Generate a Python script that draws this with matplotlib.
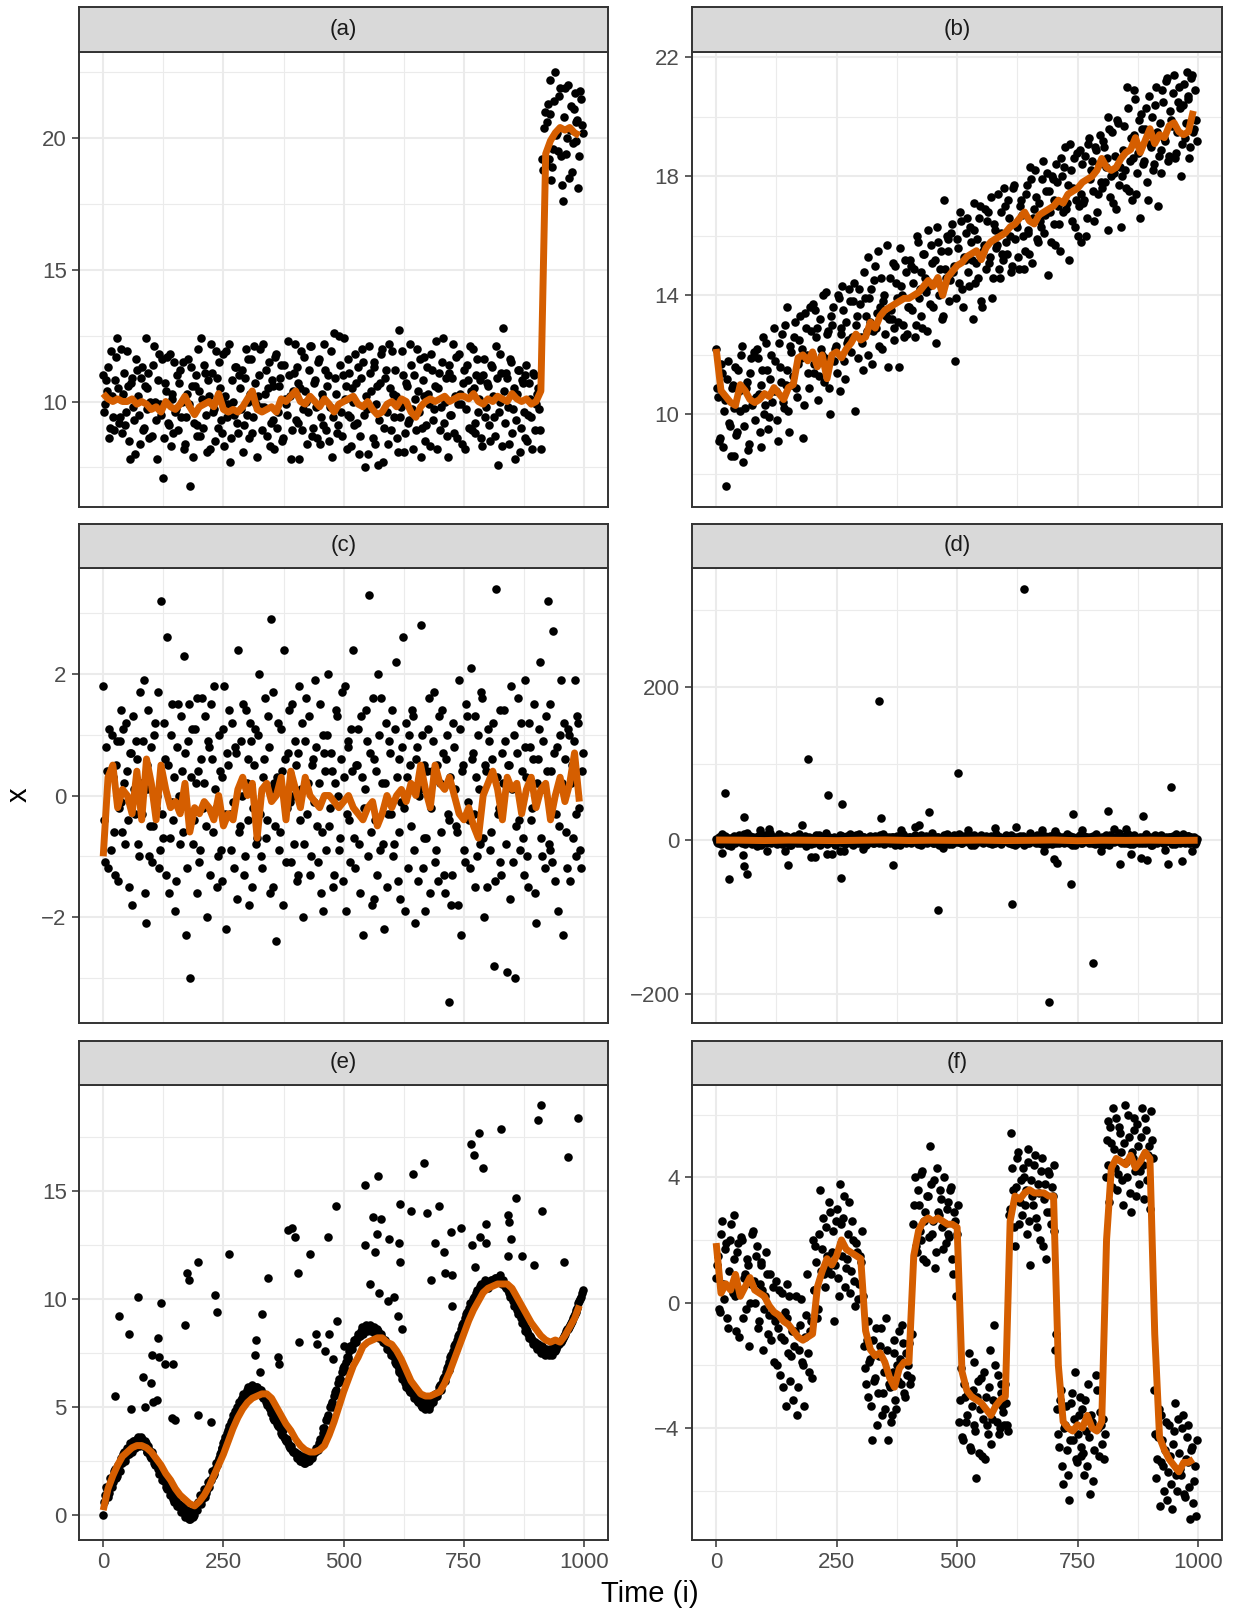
import numpy as np
import matplotlib.pyplot as plt
from matplotlib.ticker import MultipleLocator, FixedLocator

plt.rcParams['font.family'] = ['Liberation Sans', 'DejaVu Sans']

# === Data ===
# points: *_pts at t = 0, 4, 8, ...; *_pts2 at t = 2, 6, 10, ...
# smoother (*_line) every 10 time steps
a_pts = [
    11.0, 9.9, 10.4, 8.6, 11.9, 9.4, 10.8, 12.4, 9.2, 10.1,
    8.8, 11.1, 9.6, 10.6, 7.8, 10.9, 9.3, 11.6, 10.2, 8.4,
    11.3, 9.0, 12.4, 10.5, 8.6, 9.8, 11.4, 10.0, 7.8, 11.8,
    9.5, 7.1, 10.7, 11.7, 9.1, 8.3, 10.3, 11.5, 9.7, 8.9,
    11.2, 10.0, 8.2, 9.4, 11.6, 6.8, 10.6, 9.2, 11.0, 8.7,
    10.4, 12.4, 9.0, 11.1, 8.1, 10.2, 12.2, 9.6, 8.5, 10.9,
    11.5, 9.3, 10.1, 8.3, 11.9, 9.9, 7.7, 10.8, 9.5, 11.3,
    8.8, 10.5, 11.2, 9.1, 12.0, 10.0, 8.6, 11.6, 9.4, 10.7,
    7.9, 11.0, 9.8, 12.2, 10.3, 8.7, 11.5, 9.2, 10.6, 8.2,
    11.8, 9.6, 10.9, 8.5, 11.4, 9.9, 12.3, 10.2, 8.9, 11.1,
    9.3, 10.7, 7.8, 11.9, 9.7, 10.4, 8.4, 11.2, 12.1, 9.0,
    10.8, 8.6, 11.6, 9.4, 10.1, 12.2, 8.9, 11.0, 9.8, 7.9,
    12.6, 10.3, 9.1, 11.4, 8.7, 12.4, 10.6, 9.5, 11.1, 8.3,
    10.0, 11.8, 9.2, 8.0, 10.9, 11.5, 7.5, 9.7, 12.1, 10.4,
    8.6, 11.3, 9.9, 7.6, 10.7, 12.0, 9.0, 11.2, 8.4, 10.5,
    11.9, 9.4, 10.2, 8.1, 12.7, 9.8, 11.0, 8.8, 10.6, 9.3,
    11.4, 8.2, 10.1, 12.0, 9.6, 7.9, 10.8, 11.7, 9.1, 10.3,
    8.3, 11.2, 9.7, 12.3, 10.5, 8.9, 11.5, 9.2, 10.9, 7.9,
    11.1, 9.5, 12.2, 10.2, 8.6, 11.8, 9.9, 10.7, 8.2, 11.4,
    9.0, 10.4, 12.0, 8.8, 11.0, 9.6, 10.8, 8.3, 11.6, 9.8,
    10.6, 8.5, 11.3, 9.4, 12.1, 7.6, 10.0, 11.1, 12.8, 9.2,
    10.9, 8.4, 11.5, 9.7, 7.8, 10.3, 11.2, 9.0, 10.7, 8.6,
    11.4, 9.5, 10.1, 8.2, 11.0, 9.9, 10.5, 8.9, 19.2, 20.4,
    19.0, 21.3, 20.9, 18.4, 19.6, 22.5, 20.2, 21.6, 19.3, 17.6,
    21.9, 20.0, 18.5, 21.2, 19.8, 21.7, 20.6, 18.1, 21.8, 20.5,
]
a_pts2 = [
    9.6, 10.8, 11.3, 9.0, 10.2, 8.9, 11.7, 10.5, 9.4, 12.0,
    10.3, 9.1, 11.9, 8.5, 10.7, 9.8, 8.0, 11.2, 9.5, 10.9,
    8.9, 10.6, 9.7, 11.1, 10.0, 8.7, 12.1, 9.3, 10.8, 9.9,
    11.6, 8.6, 10.4, 9.2, 11.8, 10.1, 8.8, 9.6, 11.0, 10.7,
    9.4, 11.5, 8.4, 10.3, 9.9, 11.3, 7.9, 10.6, 9.1, 12.0,
    8.7, 10.1, 11.4, 9.5, 10.8, 8.2, 11.1, 9.7, 11.9, 9.0,
    10.5, 8.8, 11.8, 10.2, 9.4, 12.2, 8.6, 10.0, 11.3, 9.2,
    11.0, 9.7, 8.1, 10.9, 9.5, 11.6, 10.3, 8.8, 12.1, 9.9,
    10.2, 12.0, 8.9, 9.8, 11.2, 10.5, 8.3, 10.8, 9.3, 11.7,
    9.0, 10.6, 11.4, 8.6, 10.1, 9.5, 11.0, 7.8, 10.4, 12.2,
    11.3, 9.2, 10.5, 8.9, 11.7, 10.0, 9.6, 12.1, 8.7, 10.7,
    9.8, 11.5, 8.4, 10.3, 9.1, 11.2, 10.6, 8.5, 11.9, 9.4,
    10.9, 8.8, 12.5, 9.6, 11.0, 10.1, 8.2, 11.6, 9.4, 10.5,
    9.1, 10.7, 11.3, 8.7, 12.0, 9.5, 10.2, 8.0, 11.1, 9.8,
    11.5, 8.4, 10.6, 9.3, 11.8, 7.7, 10.9, 9.6, 12.2, 8.9,
    10.3, 11.2, 8.6, 10.0, 9.4, 11.9, 8.1, 10.7, 9.2, 12.2,
    9.7, 11.0, 8.9, 10.4, 11.6, 9.0, 10.2, 8.5, 11.3, 9.9,
    11.8, 9.3, 10.6, 8.2, 11.1, 9.8, 12.4, 10.0, 8.7, 11.4,
    9.5, 10.9, 8.8, 11.7, 9.9, 10.3, 8.4, 11.2, 9.7, 10.8,
    12.1, 8.9, 10.5, 9.2, 11.6, 10.1, 8.6, 11.0, 9.4, 10.7,
    9.1, 11.4, 10.2, 8.7, 10.9, 9.6, 11.8, 8.3, 10.4, 11.1,
    9.8, 11.6, 8.8, 10.5, 9.3, 11.2, 8.1, 10.8, 9.6, 11.0,
    8.5, 10.7, 9.4, 11.1, 8.9, 10.3, 9.7, 8.2, 18.8, 21.0,
    20.6, 19.2, 22.2, 18.9, 21.4, 20.1, 19.5, 21.9, 18.2, 20.8,
    19.4, 22.0, 20.3, 18.7, 21.1, 19.9, 20.7, 19.3, 21.5, 20.2,
]
a_line = [
    10.3, 10.1, 10.0, 10.1, 10.0, 10.0, 10.1, 9.9, 10.0, 9.9,
    9.7, 9.8, 9.6, 10.0, 9.8, 9.7, 9.9, 10.2, 9.8, 9.5,
    9.8, 9.9, 10.0, 9.8, 10.3, 9.7, 9.6, 9.7, 9.6, 9.8,
    10.1, 10.4, 9.7, 9.6, 9.7, 9.8, 9.6, 10.1, 10.0, 10.2,
    10.4, 10.0, 9.9, 10.2, 10.0, 9.8, 10.1, 9.9, 9.6, 9.9,
    10.0, 10.1, 10.2, 9.9, 9.8, 10.0, 9.7, 9.5, 9.6, 9.9,
    10.0, 9.8, 10.1, 10.0, 9.6, 9.4, 9.8, 10.0, 10.1, 10.0,
    10.1, 10.2, 10.0, 10.1, 10.2, 10.2, 10.1, 10.3, 10.0, 9.9,
    10.1, 10.0, 10.2, 10.1, 10.0, 10.3, 10.1, 10.0, 10.1, 9.9,
    10.0, 10.4, 19.4, 19.9, 20.2, 20.4, 20.3, 20.4, 20.2, 20.1,
]

b_pts = [
    12.2, 10.6, 9.2, 11.4, 10.1, 7.6, 11.8, 9.6, 10.9, 8.6,
    11.6, 9.4, 10.8, 12.0, 8.4, 10.2, 11.1, 9.0, 11.9, 10.5,
    9.8, 12.2, 10.7, 8.9, 11.5, 10.0, 12.4, 9.5, 11.2, 10.4,
    12.9, 10.8, 9.1, 11.6, 12.7, 10.2, 11.0, 13.6, 9.4, 12.1,
    11.3, 13.1, 10.6, 12.5, 11.9, 9.2, 13.4, 12.0, 10.9, 12.8,
    13.7, 11.4, 12.6, 10.5, 13.2, 12.0, 11.1, 14.1, 12.8, 10.0,
    13.0, 11.8, 12.3, 14.0, 10.8, 12.9, 13.5, 11.2, 12.4, 14.2,
    12.1, 13.8, 10.1, 13.3, 14.2, 12.6, 11.5, 13.9, 12.8, 15.3,
    13.1, 11.7, 14.5, 12.9, 15.5, 13.6, 12.2, 14.0, 13.3, 11.6,
    14.6, 13.2, 12.5, 15.0, 13.9, 11.6, 14.3, 13.0, 15.2, 12.7,
    13.6, 15.0, 14.4, 12.6, 16.0, 13.9, 14.8, 12.9, 15.4, 14.1,
    16.2, 13.7, 15.1, 14.4, 12.4, 15.8, 14.9, 13.2, 17.2, 14.6,
    15.5, 13.8, 16.1, 14.8, 11.8, 15.9, 14.4, 16.5, 13.6, 15.2,
    16.6, 14.3, 15.8, 13.2, 16.2, 15.1, 14.6, 17.0, 13.6, 15.7,
    14.9, 16.8, 15.3, 13.9, 16.4, 15.6, 17.4, 14.6, 16.1, 15.2,
    17.0, 15.4, 16.6, 14.8, 17.6, 15.9, 16.3, 14.9, 17.2, 16.0,
    15.5, 17.7, 16.2, 18.3, 15.1, 16.9, 17.3, 15.8, 16.5, 17.9,
    16.1, 17.5, 14.7, 16.8, 18.0, 17.2, 15.7, 17.8, 16.4, 18.6,
    16.8, 19.0, 17.1, 15.2, 18.2, 17.6, 16.3, 18.8, 17.0, 15.8,
    18.4, 17.2, 16.0, 19.1, 17.9, 18.5, 16.5, 18.9, 17.4, 19.4,
    17.6, 19.0, 18.3, 16.2, 19.6, 18.0, 17.1, 18.7, 19.9, 17.7,
    16.3, 18.9, 18.2, 21.0, 17.5, 19.3, 18.6, 20.9, 17.4, 18.8,
    16.6, 19.6, 18.5, 20.3, 17.2, 19.1, 20.0, 18.4, 21.0, 17.0,
    19.8, 18.1, 20.5, 19.2, 21.3, 18.7, 19.9, 20.8, 18.6, 19.5,
    21.0, 18.0, 20.4, 19.3, 21.5, 20.6, 19.0, 21.4, 19.6, 19.9,
]
b_pts2 = [
    10.9, 9.1, 11.7, 8.9, 10.5, 11.2, 9.7, 8.6, 11.0, 10.2,
    9.3, 11.5, 10.1, 12.3, 9.6, 10.9, 8.8, 11.4, 10.3, 12.1,
    10.6, 11.9, 9.4, 11.0, 12.6, 10.3, 11.5, 9.9, 12.0, 10.8,
    11.8, 9.8, 12.4, 11.1, 10.4, 13.0, 11.5, 10.1, 12.3, 11.0,
    12.6, 10.9, 11.7, 13.3, 12.2, 10.3, 12.9, 11.4, 13.6, 12.0,
    11.7, 13.5, 12.9, 11.3, 12.2, 14.0, 11.9, 12.7, 10.9, 13.3,
    13.6, 12.2, 11.4, 13.9, 12.7, 14.3, 11.8, 13.1, 12.5, 13.8,
    12.6, 14.4, 13.0, 11.9, 13.7, 12.4, 14.8, 13.3, 12.0, 13.9,
    14.2, 12.8, 15.0, 13.4, 12.3, 14.6, 13.8, 12.7, 15.7, 13.2,
    13.5, 15.1, 12.9, 14.4, 13.1, 15.6, 14.0, 12.6, 14.8, 13.6,
    15.2, 13.5, 14.9, 13.0, 15.8, 14.2, 13.3, 15.4, 14.6, 12.8,
    14.3, 15.7, 13.6, 15.2, 16.3, 14.0, 15.5, 13.3, 14.9, 16.0,
    15.9, 14.5, 16.4, 15.0, 13.9, 15.6, 16.8, 14.2, 15.3, 16.1,
    14.8, 16.3, 15.2, 17.1, 14.4, 15.9, 16.6, 13.8, 15.5, 16.9,
    16.5, 15.1, 17.3, 14.6, 16.2, 15.7, 14.9, 16.8, 15.4, 17.6,
    15.8, 17.2, 16.0, 15.0, 17.7, 16.4, 15.3, 17.0, 16.7, 14.9,
    17.4, 16.1, 15.4, 17.9, 16.6, 18.2, 15.9, 17.1, 16.3, 18.5,
    16.7, 18.1, 17.5, 15.8, 17.9, 16.4, 18.4, 17.0, 15.5, 18.0,
    18.3, 16.9, 17.7, 19.1, 16.5, 18.6, 17.2, 16.0, 18.9, 17.4,
    17.1, 18.7, 16.6, 19.3, 18.2, 17.5, 19.0, 16.8, 18.4, 17.8,
    19.2, 17.8, 18.6, 20.0, 17.3, 19.5, 18.1, 16.9, 19.8, 18.3,
    18.0, 19.7, 17.6, 20.3, 18.5, 17.2, 19.4, 20.6, 18.1, 19.9,
    20.1, 18.4, 19.6, 17.8, 20.7, 19.0, 18.2, 20.4, 19.5, 18.7,
    18.9, 20.9, 19.3, 21.2, 18.5, 20.2, 19.7, 21.4, 18.8, 20.5,
    20.3, 19.1, 21.1, 19.8, 20.7, 18.6, 21.3, 19.5, 20.9, 19.2,
]
b_line = [
    12.2, 10.8, 10.6, 10.4, 10.3, 11.0, 10.8, 10.5, 10.4, 10.5,
    10.7, 10.6, 10.9, 10.7, 10.5, 10.9, 11.0, 11.9, 12.0, 11.8,
    12.1, 11.6, 12.0, 11.2, 12.0, 12.1, 11.9, 12.2, 12.4, 12.7,
    12.5, 12.6, 13.1, 12.9, 13.3, 13.5, 13.6, 13.7, 13.8, 13.9,
    13.9, 14.0, 14.1, 14.3, 14.5, 14.3, 14.6, 14.0, 14.6, 14.8,
    15.0, 15.1, 15.3, 15.4, 15.5, 15.2, 15.6, 15.8, 15.9, 16.0,
    16.1, 16.3, 16.4, 16.6, 16.8, 16.5, 16.4, 16.7, 16.8, 16.9,
    17.0, 17.2, 17.1, 17.4, 17.5, 17.6, 17.8, 17.9, 18.0, 18.2,
    18.6, 18.3, 18.2, 18.3, 18.6, 18.8, 18.9, 19.3, 18.8, 19.2,
    19.6, 19.1, 19.4, 19.3, 19.7, 19.8, 19.5, 19.4, 19.5, 20.2,
]

c_pts = [
    1.8, -1.1, 0.4, 1.1, -0.9, 0.3, -1.3, 0.9, -0.2, 1.4,
    -0.6, 0.2, 1.2, -0.4, 0.7, -1.8, 0.1, 0.9, -0.8, 1.7,
    -0.3, 1.9, -2.1, 0.5, -1.0, 0.8, -0.5, 1.2, 0.0, -1.2,
    3.2, -0.7, 0.6, 2.6, -1.6, 1.0, -0.1, 0.3, -1.4, 1.5,
    -0.8, 0.4, 2.3, -2.3, 0.9, -3.0, 1.1, -0.4, 0.2, 1.6,
    -1.1, 0.6, -0.2, 1.3, -2.0, 0.8, 1.5, -0.6, 0.1, -1.5,
    1.0, -0.9, 0.3, 1.8, -2.2, 0.5, -0.3, 1.2, -1.2, 0.7,
    2.4, -0.5, 0.0, -1.3, 1.4, 0.6, -1.8, 0.9, -0.2, 1.1,
    -0.7, 2.0, -1.0, 0.3, 1.6, -0.4, 0.8, 2.9, -1.5, 0.2,
    -2.4, 1.2, -0.6, 0.4, 2.4, -1.1, 0.7, -0.1, 1.5, -0.8,
    0.5, -1.3, 1.8, 0.1, -2.0, 0.9, -0.3, 1.3, -1.0, 0.6,
    1.9, -0.5, 0.2, -1.6, 1.0, 0.7, -0.9, 2.0, -0.2, 0.4,
    -1.3, 1.4, 0.0, -0.7, 1.7, 0.3, -1.9, 0.8, -0.4, 1.1,
    2.4, -1.2, 0.5, -0.8, 1.3, -2.3, 0.1, 0.9, 3.3, -0.6,
    1.6, -1.7, 0.4, 2.0, -0.9, 0.2, -2.2, 1.2, -0.3, 0.7,
    1.4, -0.8, 2.2, -1.4, 0.6, -0.1, 2.6, -1.9, 0.3, 1.0,
    -0.5, 1.3, -2.1, 0.8, 0.0, 2.8, -1.2, 0.5, -0.7, 1.1,
    -1.6, 0.4, 1.7, -0.9, -1.4, 0.2, 1.4, -1.3, 0.6, -0.3,
    -3.4, -1.8, 1.2, 0.1, -0.6, 1.9, -2.3, 0.5, -1.1, 1.3,
    -0.4, 2.1, 0.7, -1.5, 0.3, 1.0, -0.8, 1.6, -2.0, 0.4,
    1.1, -0.9, 0.6, -2.8, 3.4, -0.3, 1.4, -1.3, 0.2, 0.9,
    -2.9, 0.5, 1.8, -1.1, -3.0, 0.7, -0.4, 1.2, -0.7, 1.9,
    0.3, -1.5, 0.8, -0.2, 1.5, -2.1, 0.6, 2.2, -1.0, 0.1,
    1.3, 3.2, -0.9, 0.4, 2.7, -1.4, 0.8, -0.5, 1.9, -2.3,
    0.6, -1.2, 1.0, 0.2, -0.7, 1.9, -0.3, 1.2, -0.9, 0.4,
]
c_pts2 = [
    -0.4, 0.8, -1.2, 0.3, 1.0, -0.6, 0.5, -1.4, 0.9, -0.1,
    1.1, -0.8, 0.4, -1.5, 0.7, 1.3, -0.3, 0.6, -1.0, 0.2,
    0.9, -1.6, 0.1, 1.4, -0.5, -1.1, 1.0, -0.2, 1.7, -0.9,
    -0.3, 1.2, -1.3, 0.5, -0.7, 1.5, -0.4, -1.9, 0.8, 0.0,
    1.3, -0.6, 0.7, -1.2, 1.5, 0.3, -0.8, 1.1, -1.6, 0.4,
    -0.9, 1.6, 0.2, -0.5, 0.9, -1.3, 0.6, 1.8, -0.2, -1.0,
    0.4, -1.4, 1.1, -0.3, 0.7, 1.4, -0.9, -0.1, 0.8, -1.7,
    -0.6, 0.9, 1.5, -1.0, 0.2, -0.4, 1.2, -1.5, 0.5, -0.8,
    1.0, -0.3, -1.2, 0.6, -0.7, 1.3, -1.6, 0.1, 1.7, -0.5,
    0.3, -0.9, 1.1, -1.8, 0.6, -0.2, 1.4, -1.1, 0.0, 0.9,
    -1.4, 0.7, -0.4, 1.2, -0.8, 1.6, 0.2, -1.3, 0.5, -0.1,
    0.8, -1.1, 1.5, -0.6, -1.9, 0.4, 1.0, -0.5, 0.7, -1.5,
    0.2, 1.3, -0.9, 0.6, -1.4, 1.8, -0.3, 0.9, -1.1, 0.4,
    -0.7, 0.5, 1.1, -1.6, 0.3, -0.2, 1.4, -1.0, 0.7, -1.8,
    0.6, -0.4, -1.3, 1.0, 1.6, -0.8, 0.2, -1.5, 0.9, -0.3,
    -1.0, 1.1, 0.3, -0.6, -1.7, 0.8, -0.2, 1.2, -1.2, 0.5,
    1.4, -0.9, 0.6, -1.4, 0.1, 1.0, -0.7, -1.9, 0.4, 1.6,
    -0.2, 0.9, -1.1, 0.5, 1.3, -0.6, 0.7, -1.6, 1.0, -0.4,
    0.3, -1.3, 0.8, -0.5, -1.8, 1.1, 0.4, -0.9, 1.5, -0.1,
    -1.2, 0.6, -0.3, 1.3, -1.0, 0.1, 1.7, -0.7, 0.5, -1.5,
    0.9, -0.6, 1.2, -1.4, 0.3, -0.2, -1.1, 0.7, 1.4, -0.8,
    0.5, -1.7, 0.1, 1.0, -0.5, 1.6, -0.9, 0.4, -1.3, 0.8,
    -1.0, 1.2, -0.4, 0.6, -1.6, 0.2, 1.1, -0.7, 0.9, -1.2,
    0.4, -0.8, 1.5, -1.1, 0.7, -0.3, -1.9, 1.0, 0.2, 1.2,
    -0.6, 1.1, -1.4, 0.5, 0.9, -1.0, 1.3, -0.2, -1.2, 0.7,
]
c_line = [
    -1.0, 0.3, 0.5, -0.2, 0.1, 0.0, -0.3, 0.4, -0.4, 0.6,
    0.2, -0.4, 0.5, 0.1, -0.2, -0.1, -0.3, 0.2, -0.6, -0.2,
    -0.3, -0.1, -0.2, -0.4, 0.0, -0.5, -0.3, -0.4, 0.1, 0.3,
    0.0, 0.2, -0.7, 0.1, 0.2, -0.1, 0.0, 0.3, -0.4, 0.4,
    0.1, -0.2, 0.3, 0.0, -0.1, -0.2, 0.0, 0.0, -0.1, -0.2,
    -0.1, 0.0, -0.2, -0.3, -0.4, -0.2, -0.1, -0.5, -0.3, 0.0,
    -0.2, 0.0, 0.1, -0.1, 0.2, 0.0, 0.5, 0.1, -0.2, 0.5,
    0.2, 0.1, 0.3, 0.0, -0.3, -0.4, -0.2, -0.5, -0.7, 0.0,
    0.2, 0.4, 0.1, -0.4, 0.3, 0.1, 0.2, -0.3, 0.1, 0.3,
    -0.2, 0.1, 0.2, -0.4, 0.0, 0.3, -0.1, 0.2, 0.7, -0.1,
]

d_pts = [
    2, -3, 5, 8, -1, 4, -6, 3, 0, 6,
    -4, 1, 7, -2, 3, -5, 9, 0, -3, 4,
    1, -7, 3, 6, -2, 5, -4, 2, 10, -1,
    4, -3, 0, 7, -5, 2, 6, -2, 3, -6,
    5, 0, -4, 8, 2, -3, 6, -1, 4, -5,
    3, -2, 7, 1, -6, 4, 0, 9, -3, 2,
    -1, 5, -4, 3, 7, -2, 1, -5, 6, 0,
    2, -6, 4, 0, 8, -3, 5, -1, 3, -4,
    6, 1, -3, 5, -2, 7, 0, -5, 4, 2,
    -3, 4, 1, -6, 6, 2, -2, 8, -1, 3,
    5, -4, 2, 7, -1, 3, -6, 4, 0, 6,
    -2, 3, 9, -4, 1, 5, -3, 2, 7, -1,
    4, -5, 0, 6, -2, 3, 8, -4, 1, 5,
    -1, 2, -6, 4, 7, -3, 0, 5, -2, 3,
    6, -2, 3, -5, 1, 8, -1, 4, -4, 2,
    0, 5, -3, 7, 2, -6, 4, 1, -2, 6,
    3, -4, 1, 9, -1, 5, -3, 2, 6, -5,
    1, 4, -2, 6, -5, 3, 0, 7, -3, 2,
    5, -1, 8, -4, 2, 4, -6, 1, 6, -2,
    -3, 6, 2, -1, 5, -4, 3, 8, 0, -5,
    4, -2, 7, 1, -6, 3, 5, -1, 2, 9,
    -4, 1, 6, -3, 4, 0, -5, 7, 2, -1,
    5, -3, 2, 8, -2, 4, -6, 1, 6, 0,
    -1, 7, -4, 3, 0, 5, -2, 6, -5, 2,
    4, -1, 8, -3, 2, 6, -4, 1, 5, -2,
]
d_pts2 = [
    -2, 4, -5, 1, 6, -3, 2, -7, 3, 0,
    5, -1, 3, -4, 8, 0, -2, 6, -5, 1,
    -3, 6, 0, -6, 2, 7, -1, 4, -4, 3,
    1, -5, 8, -2, 4, 0, -3, 5, -6, 2,
    6, -2, 3, -4, 0, 5, -7, 1, 3, -1,
    -4, 2, 0, 7, -3, 5, 1, -5, 4, -2,
    3, -6, 2, 0, -2, 6, -4, 3, -1, 8,
    -5, 1, 7, -3, 2, -1, 4, -6, 0, 5,
    2, -3, 6, -1, -4, 3, 8, 0, -2, 4,
    0, 5, -4, 3, 1, -6, 2, 6, -3, -1,
    4, -2, 0, 5, -5, 2, 7, -3, 1, -4,
    -1, 6, -3, 2, 4, -6, 0, 3, -2, 8,
    3, 0, -5, 7, 1, -2, 4, -4, 6, 0,
    -2, 5, 3, -6, 0, 4, -1, 7, -3, 2,
    1, -4, 6, 0, -3, 2, 5, -5, 3, -1,
    7, -2, 1, -5, 4, 0, -3, 6, 2, -6,
    -1, 3, -4, 5, 0, -2, 7, -3, 1, 4,
    6, -5, 2, -1, 3, 8, -4, 0, 5, -2,
    -3, 4, 0, 6, -6, 1, 3, -2, 7, -4,
    2, -1, 5, -3, 0, 6, -5, 4, -2, 1,
    -6, 3, 1, -4, 7, 0, -2, 5, -1, 3,
    4, -3, 0, 8, -5, 2, 6, -1, 3, -4,
    -2, 5, -4, 1, 3, -6, 0, 7, -3, 2,
    6, 0, -3, 4, -1, 5, -5, 2, 8, -2,
    -4, 3, 1, -2, 6, -3, 4, 0, -5, 2,
]
d_out_t = [19, 57, 91, 109, 179, 191, 233, 262, 338, 341, 383, 413, 420, 441,
           502, 522, 578, 622, 639, 677, 704, 741, 759, 812, 825, 850, 885, 943,
           12, 26, 55, 58, 63, 106, 143, 149, 197, 205, 229, 240, 256, 260, 266,
           305, 366, 460, 471, 613, 680, 690, 702, 707, 737, 782, 799, 837, 860,
           881, 893, 931, 938, 967, 987]
d_out_v = [62, 31, 13, 15, 20, 106, 59, 47, 181, 29, 14, 18, 20, 37,
           88, 14, 16, 17, 328, 14, 12, 34, 14, 38, 15, 15, 32, 70,
           -16, -50, -19, -34, -44, -14, -14, -32, -21, -21, -18, -18, -14, -49, -14,
           -11, -32, -91, -10, -83, -14, -211, -24, -29, -57, -160, -14, -31, -18,
           -23, -26, -13, -31, -27, -14]
# smoother in (d) is flat, read every 50 steps (last one at the final time)
d_line = [0.5, 0.3, -0.2, 0.4, 0.1, -0.3, 0.2, 0.6, -0.1, 0.3,
          0.0, 0.4, -0.2, 0.1, 0.5, -0.4, 0.2, 0.0, 0.3, -0.1, 0.2]

e_pts = [
    0.0, 0.9, 1.2, 1.0, 1.6, 1.5, 2.1, 1.8, 2.3, 2.6,
    2.4, 2.9, 2.7, 3.0, 3.3, 2.9, 3.4, 3.2, 3.6, 3.3,
    3.5, 3.2, 3.3, 2.9, 3.0, 2.6, 2.6, 2.3, 2.3, 1.9,
    1.9, 1.6, 1.5, 1.2, 1.2, 0.9, 0.9, 0.6, 0.7, 0.4,
    0.4, 0.2, 0.2, 0.0, 0.1, -0.2, 0.1, 0.0, 0.3, 0.5,
    0.6, 0.5, 0.9, 0.8, 1.2, 1.3, 1.6, 1.8, 2.1, 2.3,
    2.6, 2.9, 3.1, 3.4, 3.6, 3.9, 4.1, 4.4, 4.6, 4.8,
    5.0, 5.2, 5.4, 5.3, 5.6, 5.5, 5.8, 5.7, 5.9, 5.8,
    5.9, 5.6, 5.8, 5.4, 5.5, 5.1, 5.0, 4.7, 4.8, 4.4,
    4.4, 4.1, 4.0, 3.7, 3.6, 3.4, 3.3, 3.1, 3.0, 2.9,
    2.8, 2.7, 2.6, 2.5, 2.6, 2.4, 2.6, 2.5, 2.7, 2.8,
    2.9, 3.1, 3.3, 3.5, 3.8, 4.0, 4.4, 4.6, 5.0, 5.2,
    5.5, 5.8, 6.1, 6.3, 6.6, 6.9, 7.1, 7.3, 7.6, 7.7,
    7.9, 8.1, 8.2, 8.3, 8.5, 8.4, 8.6, 8.5, 8.7, 8.5,
    8.5, 8.6, 8.4, 8.5, 8.3, 8.2, 8.0, 7.9, 7.7, 7.6,
    7.4, 7.3, 7.0, 6.9, 6.6, 6.5, 6.3, 6.1, 6.0, 5.8,
    5.8, 5.6, 5.5, 5.3, 5.3, 5.1, 5.2, 5.0, 5.1, 5.0,
    5.1, 5.3, 5.4, 5.6, 5.7, 6.0, 6.1, 6.4, 6.6, 6.9,
    7.1, 7.4, 7.6, 7.9, 8.1, 8.4, 8.6, 8.9, 9.1, 9.4,
    9.6, 9.8, 10.0, 10.1, 10.3, 10.4, 10.6, 10.5, 10.7, 10.6,
    10.5, 10.7, 10.9, 10.8, 11.0, 10.9, 11.1, 10.8, 10.9, 10.6,
    10.5, 10.3, 10.2, 9.9, 9.8, 9.5, 9.4, 9.1, 9.0, 8.7,
    8.6, 8.4, 8.3, 8.1, 8.0, 7.8, 7.9, 7.7, 7.8, 7.6,
    7.7, 7.5, 7.6, 7.5, 7.7, 7.6, 7.8, 7.9, 8.0, 8.2,
    8.4, 8.6, 8.7, 8.9, 9.1, 9.3, 9.5, 9.8, 10.0, 10.3,
]
e_pts2 = [
    0.6, 1.3, 0.8, 1.7, 1.3, 2.0, 1.7, 2.3, 2.0, 2.4,
    2.8, 2.5, 3.1, 2.8, 3.0, 3.4, 3.1, 3.5, 3.2, 3.6,
    3.2, 3.4, 2.9, 3.2, 2.7, 2.9, 2.4, 2.5, 2.1, 2.2,
    1.6, 1.8, 1.3, 1.4, 0.9, 1.1, 0.7, 0.8, 0.4, 0.5,
    0.1, 0.4, -0.1, 0.2, -0.2, 0.1, -0.1, 0.3, 0.2, 0.6,
    0.9, 0.7, 1.2, 1.0, 1.5, 1.6, 2.0, 1.9, 2.4, 2.5,
    2.8, 3.1, 3.3, 3.6, 3.8, 4.1, 4.3, 4.6, 4.8, 5.0,
    5.2, 5.3, 5.6, 5.5, 5.8, 5.9, 5.7, 6.0, 5.8, 5.9,
    5.7, 5.8, 5.5, 5.6, 5.2, 5.3, 4.9, 4.9, 4.5, 4.6,
    4.2, 4.2, 3.8, 3.9, 3.5, 3.5, 3.2, 3.2, 2.9, 2.9,
    2.6, 2.8, 2.5, 2.7, 2.4, 2.7, 2.5, 2.8, 2.6, 2.9,
    3.1, 3.0, 3.5, 3.3, 4.0, 3.9, 4.5, 4.4, 5.1, 5.0,
    5.7, 5.6, 6.3, 6.2, 6.8, 6.7, 7.3, 7.2, 7.8, 7.7,
    8.1, 8.0, 8.4, 8.3, 8.7, 8.5, 8.8, 8.6, 8.8, 8.7,
    8.7, 8.4, 8.6, 8.2, 8.4, 8.0, 8.1, 7.7, 7.8, 7.4,
    7.5, 7.1, 7.2, 6.7, 6.8, 6.3, 6.4, 5.9, 6.1, 5.7,
    5.7, 5.4, 5.5, 5.2, 5.4, 5.0, 5.2, 4.9, 5.2, 4.9,
    5.2, 5.2, 5.6, 5.5, 5.9, 5.8, 6.3, 6.2, 6.8, 6.7,
    7.3, 7.2, 7.8, 7.7, 8.3, 8.2, 8.8, 8.7, 9.3, 9.2,
    9.8, 9.7, 10.1, 10.0, 10.4, 10.3, 10.7, 10.6, 10.9, 10.8,
    10.7, 10.9, 10.8, 11.0, 10.8, 11.0, 10.9, 10.7, 10.7, 10.5,
    10.4, 10.1, 10.1, 9.7, 9.7, 9.3, 9.3, 8.9, 8.9, 8.5,
    8.5, 8.2, 8.2, 7.9, 8.0, 7.7, 7.7, 7.5, 7.6, 7.4,
    7.6, 7.4, 7.7, 7.4, 7.8, 7.7, 7.9, 8.0, 8.1, 8.3,
    8.5, 8.6, 8.8, 9.0, 9.2, 9.4, 9.6, 9.9, 10.1, 10.4,
]
e_out_t = [25, 32, 54, 57, 73, 82, 87, 99, 101, 103,
           111, 113, 115, 120, 129, 144, 150, 146, 170, 174,
           179, 197, 198, 224, 232, 237, 262, 315, 318, 326,
           330, 342, 364, 365, 385, 392, 398, 406, 408, 429,
           442, 445, 461, 468, 470, 477, 486, 485, 500, 545,
           545, 554, 561, 565, 569, 572, 574, 577, 592, 594,
           604, 613, 615, 617, 618, 622, 639, 645, 668, 674,
           682, 689, 699, 709, 711, 723, 725, 726, 744, 764,
           766, 770, 772, 782, 783, 790, 795, 795, 827, 841,
           843, 841, 848, 859, 871, 895, 903, 911, 913, 959,
           967, 987]
e_out_v = [5.5, 9.2, 8.4, 4.9, 10.1, 6.4, 5.0, 6.1, 7.4, 5.2,
           5.3, 8.2, 7.3, 9.8, 7.0, 4.5, 4.4, 7.0, 8.8, 11.2,
           10.9, 4.6, 11.7, 4.3, 10.2, 9.4, 12.1, 7.4, 8.1, 6.6,
           9.3, 11.0, 7.3, 7.0, 13.2, 13.3, 12.9, 11.2, 8.0, 12.1,
           8.4, 7.9, 7.6, 12.9, 8.4, 7.2, 9.0, 14.3, 7.8, 15.3,
           12.5, 10.7, 13.8, 12.2, 13.0, 15.7, 10.3, 13.7, 9.9, 12.8,
           10.1, 9.2, 12.6, 14.4, 11.7, 8.6, 14.1, 15.8, 16.3, 14.0,
           10.9, 12.6, 14.3, 12.2, 11.2, 13.1, 11.1, 9.7, 13.3, 17.2,
           12.5, 16.7, 11.5, 17.7, 12.9, 16.1, 13.5, 12.6, 17.9, 13.9,
           13.6, 12.0, 12.8, 14.7, 12.0, 11.6, 18.3, 19.0, 14.1, 11.7,
           16.6, 18.4]
e_line = [
    0.2, 1.2, 1.8, 2.3, 2.7, 2.9, 3.1, 3.2, 3.2, 3.1,
    2.9, 2.6, 2.3, 1.9, 1.6, 1.2, 0.9, 0.7, 0.5, 0.4,
    0.6, 0.9, 1.3, 1.8, 2.3, 2.8, 3.4, 4.0, 4.5, 4.9,
    5.2, 5.4, 5.5, 5.6, 5.6, 5.4, 5.0, 4.6, 4.2, 3.9,
    3.5, 3.2, 3.0, 2.9, 2.9, 3.0, 3.2, 3.7, 4.3, 5.0,
    5.7, 6.3, 6.9, 7.3, 7.8, 8.0, 8.1, 8.2, 8.2, 8.0,
    7.9, 7.6, 7.2, 6.7, 6.2, 5.9, 5.6, 5.5, 5.5, 5.6,
    5.7, 6.1, 6.6, 7.2, 7.8, 8.4, 9.0, 9.5, 9.9, 10.3,
    10.5, 10.6, 10.7, 10.7, 10.7, 10.5, 10.1, 9.7, 9.3, 8.9,
    8.6, 8.3, 8.1, 8.0, 8.1, 8.0, 8.3, 8.7, 9.1, 9.7,
]

f_pts = [
    0.8, 1.5, -0.3, 2.6, 0.1, 1.9, -0.8, 2.0, 0.5, 2.8,
    0.2, 1.6, -1.1, 2.1, -0.5, 0.9, 1.4, -1.4, 0.6, 2.3,
    0.0, 1.8, -0.6, 1.2, 0.4, -0.2, 1.6, -1.0, 0.9, -0.4,
    -1.9, 0.7, -0.8, -2.3, 0.3, -1.2, -3.3, -0.5, 0.2, -1.7,
    -3.1, -0.9, -3.6, -1.5, 0.1, -2.0, -1.1, 0.9, -2.2, -0.6,
    2.0, 0.4, 1.3, -0.2, 3.6, 1.7, 0.9, 2.4, 1.1, 2.9,
    1.6, -0.6, 2.6, 0.8, 3.8, 1.9, 2.7, 0.5, 1.4, 3.2,
    1.0, 2.0, -0.1, 1.6, 0.6, 1.3, 0.2, -2.1, -1.2, -3.0,
    -1.8, -4.4, -2.5, -0.8, -2.9, -1.4, -3.6, -2.2, -0.5, -4.4,
    -2.7, -3.6, -1.6, -3.1, -2.0, -0.9, -2.6, -1.3, -3.0, -2.3,
    -1.3, -2.4, 2.5, 4.0, 1.6, 3.1, 2.0, 4.2, 2.6, 1.3,
    3.4, 5.0, 2.2, 3.9, 1.6, 2.9, 3.6, 2.4, 4.0, 1.9,
    3.2, 2.1, 3.7, 0.9, 2.6, 2.2, -3.8, -2.1, -4.4, -3.0,
    -3.6, -1.6, -4.7, -2.8, -3.9, -5.6, -2.5, -3.4, -4.9, -2.2,
    -3.0, -4.2, -1.5, -3.7, -0.7, -3.2, -2.3, -4.0, -2.9, -3.5,
    -2.6, -3.9, 2.8, 5.4, 3.6, 1.8, 4.6, 2.5, 3.9, 4.3,
    3.1, 2.2, 4.9, 1.2, 3.4, 4.4, 2.7, 3.8, 2.0, 4.6,
    3.3, 1.4, 4.2, 2.9, 3.7, 2.3, -1.5, -3.4, -4.6, -2.8,
    -5.8, -3.9, -4.7, -6.3, -3.2, -4.4, -2.2, -5.1, -3.6, -4.9,
    -3.4, -5.5, -4.1, -2.6, -6.1, -3.8, -4.7, -2.3, -4.0, -3.5,
    -4.5, -5.0, 4.0, 5.8, 3.2, 5.1, 6.2, 4.3, 3.6, 5.6,
    4.8, 3.1, 6.3, 4.0, 5.3, 2.9, 4.6, 5.9, 3.4, 5.0,
    4.2, 6.2, 3.3, 5.5, 4.7, 3.0, 5.2, -2.8, -5.6, -4.3,
    -6.5, -3.6, -5.2, -4.7, -6.3, -3.9, -5.8, -4.5, -3.2, -6.0,
    -4.8, -5.5, -3.6, -6.2, -4.3, -5.1, -6.9, -4.6, -5.7, -6.8,
]
f_pts2 = [
    1.2, -0.2, 2.2, 0.6, 1.7, -0.5, 1.0, 2.5, 0.3, 1.4,
    -0.9, 1.9, 0.4, 2.0, 0.8, -0.2, 1.2, 0.0, 2.2, 0.7,
    1.5, -0.8, 0.6, 1.3, -1.5, 0.2, 0.9, -0.4, -1.2, 0.5,
    -0.6, -2.0, 0.4, -1.1, -2.7, -0.3, 0.6, -1.6, -2.5, -0.9,
    -1.4, 0.2, -2.7, -0.7, -1.9, -3.3, -0.4, -1.6, -0.9, -2.4,
    0.4, 1.8, -0.5, 2.2, 1.0, 2.7, 0.5, 1.5, 3.2, 0.9,
    2.3, 1.2, 3.0, 0.2, 2.5, 1.5, 3.4, 1.1, 2.2, 0.3,
    2.6, 0.7, 1.9, 0.1, 1.5, 2.3, -1.4, -2.6, -0.6, -1.9,
    -3.3, -1.2, -2.4, -3.9, -1.7, -0.8, -2.9, -3.4, -1.5, -2.6,
    -3.8, -2.2, -1.2, -3.4, -2.5, -1.8, -0.7, -2.9, -1.6, -2.0,
    -2.6, -1.0, 3.1, 1.8, 3.6, 2.3, 4.1, 1.4, 2.9, 3.4,
    2.1, 3.8, 2.6, 1.1, 4.3, 2.8, 3.3, 1.7, 2.5, 3.0,
    2.2, 3.6, 1.4, 2.9, 0.2, 3.1, -3.1, -4.3, -2.6, -3.8,
    -2.9, -4.6, -3.3, -1.9, -4.1, -3.0, -4.8, -2.4, -3.7, -5.0,
    -3.9, -2.7, -4.5, -3.1, -2.0, -3.8, -4.2, -2.6, -3.3, -3.9,
    -3.2, -4.1, 3.0, 4.3, 2.4, 3.7, 4.8, 3.2, 2.8, 4.0,
    3.6, 4.5, 2.6, 3.9, 3.1, 4.7, 2.4, 3.5, 4.2, 1.8,
    3.8, 2.9, 4.1, 2.5, 3.4, 4.4, -1.0, -4.2, -3.1, -5.2,
    -4.0, -3.3, -5.5, -4.4, -2.9, -3.7, -5.0, -4.2, -3.0, -4.6,
    -4.8, -3.1, -5.2, -4.3, -3.6, -5.7, -4.0, -2.8, -4.9, -3.9,
    -3.7, -4.2, 5.2, 4.4, 5.6, 3.7, 4.9, 5.9, 4.1, 5.4,
    3.9, 5.1, 4.5, 6.0, 3.5, 4.8, 5.5, 4.2, 5.7, 3.8,
    5.3, 4.4, 5.9, 3.9, 5.0, 6.1, 4.6, -4.2, -5.0, -3.4,
    -5.1, -4.4, -6.0, -3.8, -5.4, -4.9, -6.6, -4.1, -5.5, -3.7,
    -5.3, -4.0, -6.1, -5.0, -3.9, -5.9, -4.7, -6.4, -5.2, -4.4,
]
f_line = [
    1.9, 0.3, 0.6, 0.4, 0.9, 0.2, 0.5, 0.8, 0.4, 0.3,
    0.2, -0.1, -0.3, -0.4, -0.6, -0.7, -0.9, -1.1, -1.2, -1.1,
    -1.0, 0.5, 1.0, 1.4, 1.2, 1.5, 2.0, 1.7, 1.6, 1.5,
    1.4, -0.9, -1.5, -1.7, -1.6, -1.9, -2.4, -2.7, -2.1, -1.9,
    -1.9, 1.5, 2.3, 2.6, 2.7, 2.6, 2.7, 2.6, 2.5, 2.5,
    2.4, -2.2, -2.8, -3.0, -3.1, -3.2, -3.4, -3.6, -3.3, -3.1,
    -3.0, 2.6, 3.4, 3.3, 3.5, 3.6, 3.5, 3.5, 3.5, 3.4,
    3.4, -2.0, -3.8, -4.0, -4.1, -3.9, -4.0, -3.6, -4.0, -4.1,
    -3.8, 2.0, 4.3, 4.6, 4.5, 4.4, 4.7, 4.3, 4.5, 4.8,
    4.6, -1.0, -4.3, -4.7, -5.0, -5.2, -5.4, -5.1, -5.1, -5.0,
]

panel_labels = ["(a)", "(b)", "(c)", "(d)", "(e)", "(f)"]
y_breaks = [[10, 15, 20], [10, 14, 18, 22], [-2, 0, 2],
            [-200, 0, 200], [0, 5, 10, 15], [-4, 0, 4]]
x_breaks = [0, 250, 500, 750, 1000]

# === Figure layout (pixel boxes of the ggplot facets) ===
W, H = 1234, 1612
fig = plt.figure(figsize=(W / 100, H / 100), dpi=100)

col_x = [(79.2, 607.7), (692.1, 1221.7)]
strip_tops = [7.5, 524.0, 1040.5]
strip_h = 44.0
panel_h = 455.0

orange = "#D55E00"
border = "#333333"

panels = [
    (a_pts, a_pts2, [], [], a_line, 10),
    (b_pts, b_pts2, [], [], b_line, 10),
    (c_pts, c_pts2, [], [], c_line, 10),
    (d_pts, d_pts2, d_out_t, d_out_v, d_line, 50),
    (e_pts, e_pts2, e_out_t, e_out_v, e_line, 10),
    (f_pts, f_pts2, [], [], f_line, 10),
]

for i, (pts, pts2, out_t, out_v, line, lstep) in enumerate(panels):
    r, c = divmod(i, 2)
    x0, x1 = col_x[c]
    top = strip_tops[r]
    ax = fig.add_axes([x0 / W, 1 - (top + strip_h + panel_h) / H,
                       (x1 - x0) / W, panel_h / H])
    st = fig.add_axes([x0 / W, 1 - (top + strip_h) / H,
                       (x1 - x0) / W, strip_h / H])

    t_pts = np.concatenate([np.arange(len(pts)) * 4.0,
                            np.arange(len(pts2)) * 4.0 + 2,
                            np.array(out_t, dtype=float)])
    v_pts = np.concatenate([np.array(pts, dtype=float),
                            np.array(pts2, dtype=float),
                            np.array(out_v, dtype=float)])
    t_line = np.minimum(np.arange(len(line)) * lstep, 999)

    ax.scatter(t_pts, v_pts, s=38, color="black", linewidths=0, zorder=2)
    ax.plot(t_line, line, color=orange, lw=5.0, solid_joinstyle="round",
            solid_capstyle="butt", zorder=3)

    ax.set_xlim(-49.95, 1048.95)
    ax.margins(y=0.05)
    ax.yaxis.set_major_locator(FixedLocator(y_breaks[i]))
    ystep = y_breaks[i][1] - y_breaks[i][0]
    ax.yaxis.set_minor_locator(MultipleLocator(ystep / 2))
    ax.xaxis.set_major_locator(FixedLocator(x_breaks))
    ax.xaxis.set_minor_locator(MultipleLocator(125))

    ax.set_axisbelow(True)
    ax.grid(which="major", color="#EBEBEB", lw=1.5)
    ax.grid(which="minor", color="#EBEBEB", lw=0.8)
    for sp in ax.spines.values():
        sp.set_color(border)
        sp.set_linewidth(1.4)

    ax.tick_params(which="major", length=5, width=1.1, color=border,
                   labelsize=16, labelcolor="#4D4D4D", pad=4)
    ax.tick_params(which="minor", length=0)
    if r < 2:
        ax.tick_params(axis="x", which="major", length=0, labelbottom=False)

    st.set_facecolor("#D9D9D9")
    st.set_xticks([])
    st.set_yticks([])
    for sp in st.spines.values():
        sp.set_color(border)
        sp.set_linewidth(1.4)
    st.text(0.5, 0.5, panel_labels[i], ha="center", va="center",
            fontsize=16, color="#1A1A1A", transform=st.transAxes)

fig.text(650 / W, 1 - 1594 / H, "Time (i)", ha="center", va="center",
         fontsize=21, color="black")
fig.text(18.5 / W, 1 - 795 / H, "x", ha="center", va="center",
         fontsize=21, color="black", rotation=90)

fig.savefig("out.png", dpi=100)
